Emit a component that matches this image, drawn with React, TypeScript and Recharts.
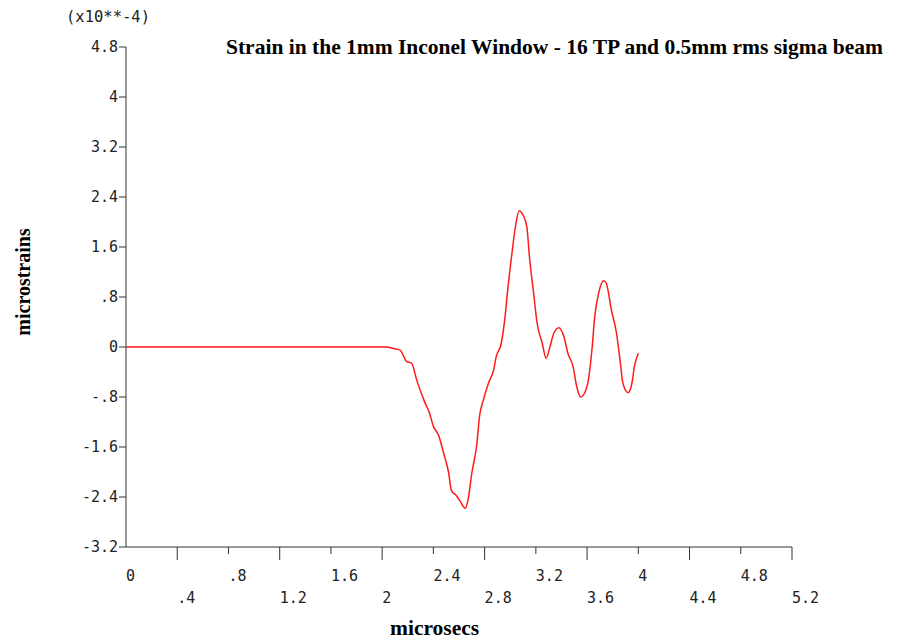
import React from "react";
import { LineChart, Line, XAxis, YAxis } from "recharts";

// time in microsecs, strain in units of 1e-4 microstrains
const TIME = [
  0, 2.04, 2.08, 2.14, 2.19, 2.23, 2.27, 2.33, 2.37, 2.4, 2.44, 2.48, 2.52, 2.54, 2.58, 2.61, 2.65,
  2.67, 2.7, 2.74, 2.76, 2.79, 2.83, 2.87, 2.89, 2.93, 2.96, 2.98, 3.01, 3.04, 3.07, 3.1, 3.13, 3.15,
  3.18, 3.21, 3.25, 3.28, 3.31, 3.34, 3.38, 3.42, 3.45, 3.49, 3.52, 3.55, 3.58, 3.61, 3.64, 3.66,
  3.69, 3.73, 3.75, 3.79, 3.83, 3.86, 3.88, 3.92, 3.95, 3.97, 4.0,
];
const STRAIN = [
  0, 0, -0.02, -0.05, -0.23, -0.26, -0.53, -0.87, -1.06, -1.27, -1.41, -1.7, -2.02, -2.29, -2.38, -2.47,
  -2.58, -2.45, -2.02, -1.54, -1.11, -0.85, -0.58, -0.37, -0.16, 0.06, 0.49, 0.91, 1.44, 1.92, 2.18, 2.11,
  1.92, 1.44, 0.91, 0.38, 0.06, -0.18, 0.0, 0.22, 0.31, 0.16, -0.1, -0.31, -0.64, -0.8, -0.74, -0.53,
  0.0, 0.49, 0.86, 1.06, 1.02, 0.59, 0.22, -0.26, -0.58, -0.73, -0.58, -0.31, -0.1,
];

const X_TICKS = [0, 0.4, 0.8, 1.2, 1.6, 2, 2.4, 2.8, 3.2, 3.6, 4, 4.4, 4.8, 5.2];
const X_LABELS = ["0", ".4", ".8", "1.2", "1.6", "2", "2.4", "2.8", "3.2", "3.6", "4", "4.4", "4.8", "5.2"];
const Y_TICKS = [-3.2, -2.4, -1.6, -0.8, 0, 0.8, 1.6, 2.4, 3.2, 4, 4.8];
const Y_LABELS = ["-3.2", "-2.4", "-1.6", "-.8", "0", ".8", "1.6", "2.4", "3.2", "4", "4.8"];

const TITLE = "Strain in the 1mm Inconel Window - 16 TP and 0.5mm rms sigma beam";
const SCALE_NOTE = "(x10**-4)";

const AXIS = "#333";
const MONO = "'DejaVu Sans Mono', monospace";
const SERIF = "'Liberation Serif', 'Times New Roman', serif";

const data = TIME.map((t, i) => ({ t, v: STRAIN[i] }));

const XTick = (props: any) => {
  const { x, y, payload } = props;
  const idx = X_TICKS.indexOf(payload.value);
  const lower = idx % 2 === 1;
  return (
    <g>
      {idx > 0 && (
        <line x1={x} x2={x} y1={y} y2={y + (lower ? 13 : 7)} stroke={AXIS} strokeWidth={1} />
      )}
      <text
        x={x}
        y={y + (lower ? 51 : 29)}
        textAnchor="start"
        dominantBaseline="central"
        fontFamily={MONO}
        fontSize={15}
        fill="#222"
      >
        {X_LABELS[idx]}
      </text>
    </g>
  );
};

const YTick = (props: any) => {
  const { x, y, payload } = props;
  return (
    <g>
      <line x1={x - 7} x2={x} y1={y} y2={y} stroke={AXIS} strokeWidth={1} />
      <text
        x={x - 8}
        y={y}
        textAnchor="end"
        dominantBaseline="central"
        fontFamily={MONO}
        fontSize={15}
        fill="#222"
      >
        {Y_LABELS[Y_TICKS.indexOf(payload.value)]}
      </text>
    </g>
  );
};

export default function App() {
  return (
    <div style={{ position: "absolute", left: 0, top: 0, width: 902, height: 641, background: "#fff" }}>
      <LineChart
        width={902}
        height={641}
        data={data}
        margin={{ top: 47, right: 110, bottom: 34, left: 86 }}
      >
        <XAxis
          dataKey="t"
          type="number"
          domain={[0, 5.2]}
          ticks={X_TICKS}
          interval={0}
          height={60}
          tickSize={0}
          tickMargin={0}
          tickLine={false}
          axisLine={{ stroke: AXIS, strokeWidth: 1 }}
          tick={<XTick />}
          allowDataOverflow
        />
        <YAxis
          type="number"
          domain={[-3.2, 4.8]}
          ticks={Y_TICKS}
          interval={0}
          width={40}
          tickSize={0}
          tickMargin={0}
          tickLine={false}
          axisLine={{ stroke: AXIS, strokeWidth: 1 }}
          tick={<YTick />}
          allowDataOverflow
        />
        <Line
          dataKey="v"
          type="monotone"
          stroke="#ff1a1a"
          strokeWidth={1.5}
          dot={false}
          activeDot={false}
          isAnimationActive={false}
        />
      </LineChart>

      <div
        style={{
          position: "absolute", left: 66, top: 10, fontFamily: MONO, fontSize: 15.5,
          lineHeight: "15px", color: "#222", whiteSpace: "nowrap",
        }}
      >
        {SCALE_NOTE}
      </div>
      <div
        style={{
          position: "absolute", left: 226, top: 37, fontFamily: SERIF, fontSize: 21.5,
          fontWeight: "bold", lineHeight: "21.5px", color: "#000", whiteSpace: "nowrap",
        }}
      >
        {TITLE}
      </div>
      <div
        style={{
          position: "absolute", left: 390, top: 618, fontFamily: SERIF, fontSize: 21.5,
          fontWeight: "bold", lineHeight: "21.5px", color: "#000", whiteSpace: "nowrap",
        }}
      >
        microsecs
      </div>
      <div
        style={{
          position: "absolute", left: -77, top: 272, width: 200, height: 20, textAlign: "center",
          transform: "rotate(-90deg)", fontFamily: SERIF, fontSize: 20, fontWeight: "bold",
          lineHeight: "20px", color: "#000", whiteSpace: "nowrap",
        }}
      >
        microstrains
      </div>
    </div>
  );
}
